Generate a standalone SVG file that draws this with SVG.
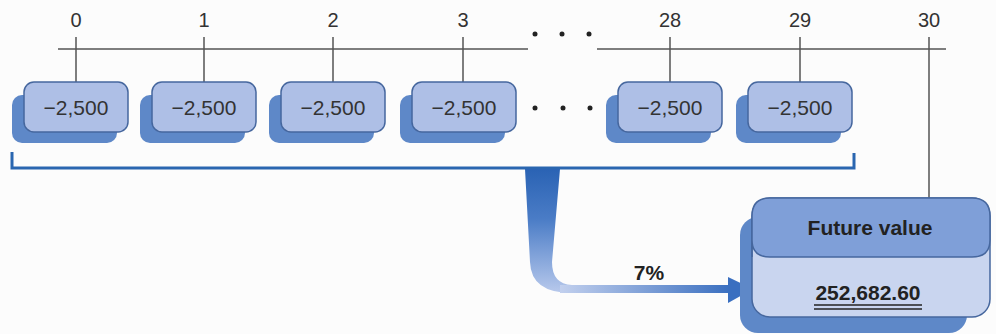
<svg xmlns="http://www.w3.org/2000/svg" width="996" height="334" viewBox="0 0 996 334">
<defs>
<style>
.lbl{font-family:"Liberation Sans",Arial,sans-serif;font-size:20px;fill:#333;text-anchor:middle}
.val{font-family:"Liberation Sans",Arial,sans-serif;font-size:21px;fill:#333;text-anchor:middle}
.tk{stroke:#555;stroke-width:1.5;fill:none}
.box{fill:#aebfe6;stroke:#46679e;stroke-width:1.5}
.sh{fill:#5e88c8}
.dot{fill:#222}
.bold{font-family:"Liberation Sans",Arial,sans-serif;font-weight:bold;font-size:21px;fill:#222;text-anchor:middle}
</style>
<linearGradient id="gv" x1="0" y1="0" x2="0" y2="1">
<stop offset="0" stop-color="#2a63b4"/>
<stop offset="0.4" stop-color="#4a7cc6"/>
<stop offset="1" stop-color="#b8c9ec"/>
</linearGradient>
<linearGradient id="gh" x1="0" y1="0" x2="1" y2="0">
<stop offset="0" stop-color="#c2d0ee"/>
<stop offset="1" stop-color="#3a6fc0"/>
</linearGradient>
</defs>
<rect width="996" height="334" fill="#fcfcfc"/>
<g id="timeline">
<line class="tk" x1="58" y1="49" x2="528" y2="49"/>
<line class="tk" x1="597" y1="49" x2="946" y2="49"/>
<text class="lbl" x="76" y="27">0</text>
<text class="lbl" x="204" y="27">1</text>
<text class="lbl" x="333" y="27">2</text>
<text class="lbl" x="463" y="27">3</text>
<text class="lbl" x="670" y="27">28</text>
<text class="lbl" x="800" y="27">29</text>
<text class="lbl" x="929" y="27">30</text>
<circle class="dot" cx="535" cy="34" r="2.5"/>
<circle class="dot" cx="562" cy="34" r="2.5"/>
<circle class="dot" cx="589" cy="34" r="2.5"/>
</g>
<g id="connectors">
<line class="tk" x1="76" y1="37" x2="76" y2="82"/>
<line class="tk" x1="204" y1="37" x2="204" y2="82"/>
<line class="tk" x1="333" y1="37" x2="333" y2="82"/>
<line class="tk" x1="463" y1="37" x2="463" y2="82"/>
<line class="tk" x1="670" y1="37" x2="670" y2="82"/>
<line class="tk" x1="800" y1="37" x2="800" y2="82"/>
<line class="tk" x1="929" y1="37" x2="929" y2="198"/>
<path d="M12 152 V168 H854 V153" fill="none" stroke="#2a66b0" stroke-width="3"/>
<path d="M525 169 H560 L552 262 Q552 284 572 285 H730 V293 H572 Q531 293 530 262 Z" fill="url(#gv)"/>
<path d="M560 285 H730 V293 H560 Z" fill="url(#gh)"/>
<path d="M728 277 L753 289 L728 303 Z" fill="#3a6fc0"/>
<text class="bold" x="649" y="280">7%</text>
</g>
<g id="p0"><rect class="sh" x="12" y="95" width="105" height="48" rx="10"/><rect class="box" x="24" y="82" width="104" height="50" rx="10"/><text class="val" x="76" y="115">−2,500</text></g>
<g id="p1"><rect class="sh" x="140" y="95" width="105" height="48" rx="10"/><rect class="box" x="152" y="82" width="104" height="50" rx="10"/><text class="val" x="204" y="115">−2,500</text></g>
<g id="p2"><rect class="sh" x="269" y="95" width="105" height="48" rx="10"/><rect class="box" x="281" y="82" width="104" height="50" rx="10"/><text class="val" x="333" y="115">−2,500</text></g>
<g id="p3"><rect class="sh" x="400" y="95" width="105" height="48" rx="10"/><rect class="box" x="412" y="82" width="104" height="50" rx="10"/><text class="val" x="464" y="115">−2,500</text></g>
<g id="dots2"><circle class="dot" cx="535" cy="108" r="2.5"/><circle class="dot" cx="563" cy="108" r="2.5"/><circle class="dot" cx="590" cy="108" r="2.5"/></g>
<g id="p28"><rect class="sh" x="606" y="95" width="105" height="48" rx="10"/><rect class="box" x="618" y="82" width="104" height="50" rx="10"/><text class="val" x="670" y="115">−2,500</text></g>
<g id="p29"><rect class="sh" x="736" y="95" width="105" height="48" rx="10"/><rect class="box" x="748" y="82" width="104" height="50" rx="10"/><text class="val" x="800" y="115">−2,500</text></g>
<g id="fv">
<rect class="sh" x="740" y="217" width="227" height="116" rx="18"/>
<rect x="752" y="198" width="238" height="119" rx="18" fill="#c9d5ef" stroke="#46679e" stroke-width="1.5"/>
<path d="M752 257 V216 Q752 198 770 198 H972 Q990 198 990 216 V240 Q990 257 972 257 H770 Q752 257 752 240 Z" fill="#7f9fd8" stroke="#46679e" stroke-width="1.5"/>
<text class="bold" x="870" y="235">Future value</text>
<text class="bold" x="868" y="300">252,682.60</text>
<line x1="814" y1="305" x2="922" y2="305" stroke="#222" stroke-width="1.5"/>
<line x1="814" y1="309" x2="922" y2="309" stroke="#222" stroke-width="1.5"/>
</g>
</svg>
